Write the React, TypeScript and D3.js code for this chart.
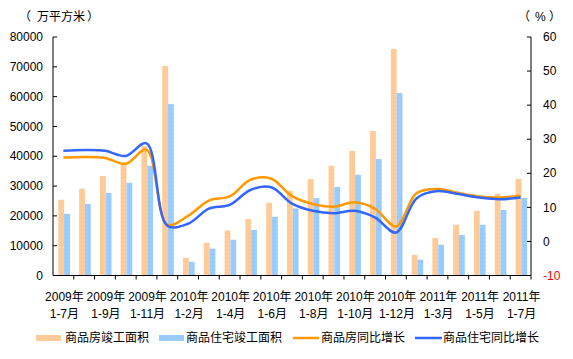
import * as React from "react";
import * as d3 from "d3";

const months = [
  "2009年|1-7月", "2009年|1-8月", "2009年|1-9月", "2009年|1-10月", "2009年|1-11月", "2009年|1-12月",
  "2010年|1-2月", "2010年|1-3月", "2010年|1-4月", "2010年|1-5月", "2010年|1-6月", "2010年|1-7月",
  "2010年|1-8月", "2010年|1-9月", "2010年|1-10月", "2010年|1-11月", "2010年|1-12月",
  "2011年|1-2月", "2011年|1-3月", "2011年|1-4月", "2011年|1-5月", "2011年|1-6月", "2011年|1-7月",
];

// 万平方米
const houseArea = [25400, 29100, 33400, 37100, 43500, 70300, 5900, 11000, 15100, 19000, 24400, 28400, 32400, 36800, 41800, 48500, 76000, 6900, 12600, 17000, 21700, 27400, 32400];
const resiArea = [20700, 24000, 27700, 31100, 36800, 57500, 4600, 9000, 12000, 15300, 19700, 22500, 26000, 29700, 33800, 39100, 61200, 5300, 10300, 13600, 17000, 22000, 26000];
// %
const houseGrowth = [24.6, 24.8, 24.5, 22.8, 26.9, 4.9, 7.5, 12.0, 13.2, 18.1, 18.4, 13.3, 11.0, 10.2, 11.5, 9.6, 4.4, 14.2, 15.4, 14.2, 13.2, 12.9, 13.4];
const resiGrowth = [26.6, 26.8, 26.6, 25.1, 28.8, 4.6, 5.2, 9.6, 10.7, 15.1, 15.9, 11.1, 9.0, 8.3, 9.0, 7.0, 2.6, 12.7, 14.8, 13.9, 12.9, 12.4, 12.9];

const leftTicks = [0, 10000, 20000, 30000, 40000, 50000, 60000, 70000, 80000];
const rightTicks = [-10, 0, 10, 20, 30, 40, 50, 60];

const ORANGE_BAR = "#FFCC99";
const BLUE_BAR = "#99CCFF";
const ORANGE_LINE = "#FF9900";
const BLUE_LINE = "#3366FF";

export default function App() {
  const width = 573;
  const height = 359;
  const left = 53, right = 531, top = 37, bottom = 275.5;
  const font = "'Liberation Sans', Arial, 'Noto Sans CJK SC', sans-serif";

  const x = d3.scaleBand<number>().domain(months.map((_, i) => i)).range([left, right]);
  const bw = x.bandwidth();
  const xs = d3.scaleBand<string>().domain(["h", "r"]).range([0, bw]).paddingOuter(0.79).align(0.58);
  const yL = d3.scaleLinear().domain([0, 80000]).range([bottom, top]);
  const yR = d3.scaleLinear().domain([-10, 60]).range([bottom, top]);

  const line = d3.line<number>()
    .x((_, i) => (x(i) as number) + bw / 2)
    .y((v) => yR(v))
    .curve(d3.curveCatmullRom.alpha(0.5));

  return (
    <div style={{ position: "absolute", left: 0, top: 0 }}>
      <svg width={width} height={height} style={{ display: "block", background: "#fff" }} fontFamily={font}>
        <defs>
          <pattern id="dotO" width="4" height="4" patternUnits="userSpaceOnUse">
            <rect width="4" height="4" fill={ORANGE_BAR} />
            <rect x="1" y="1" width="1" height="1" fill="#F5C08E" />
          </pattern>
          <pattern id="dotB" width="4" height="4" patternUnits="userSpaceOnUse">
            <rect width="4" height="4" fill={BLUE_BAR} />
            <rect x="1" y="1" width="1" height="1" fill="#8CC0F5" />
          </pattern>
        </defs>

        {/* bars */}
        {houseArea.map((v, i) => (
          <rect key={"h" + i} x={(x(i) as number) + (xs("h") as number)} y={yL(v)}
            width={xs.bandwidth()} height={bottom - yL(v)} fill="url(#dotO)" />
        ))}
        {resiArea.map((v, i) => (
          <rect key={"r" + i} x={(x(i) as number) + (xs("r") as number)} y={yL(v)}
            width={xs.bandwidth()} height={bottom - yL(v)} fill="url(#dotB)" />
        ))}

        {/* lines */}
        <path d={line(houseGrowth) || ""} fill="none" stroke={ORANGE_LINE} strokeWidth={2.5} />
        <path d={line(resiGrowth) || ""} fill="none" stroke={BLUE_LINE} strokeWidth={2.5} />

        {/* left axis */}
        <line x1={left} x2={left} y1={top} y2={bottom} stroke="#000" />
        {leftTicks.map((t) => (
          <g key={"lt" + t}>
            <line x1={left} x2={left + 4} y1={yL(t)} y2={yL(t)} stroke="#000" />
            <text x={43} y={yL(t)} dy="0.35em" textAnchor="end" fontSize={12}>{t}</text>
          </g>
        ))}

        {/* right axis */}
        <line x1={right} x2={right} y1={top} y2={bottom} stroke="#000" />
        {rightTicks.map((t) => (
          <g key={"rt" + t}>
            <line x1={right - 4} x2={right} y1={yR(t)} y2={yR(t)} stroke="#000" />
            <text x={543} y={yR(t)} dy="0.35em" textAnchor="start" fontSize={12}
              fill={t < 0 ? "#FF0000" : "#000"}>{t}</text>
          </g>
        ))}

        {/* x axis */}
        <line x1={left} x2={right} y1={bottom} y2={bottom} stroke="#000" />
        {months.map((_, i) => (
          <line key={"xt" + i} x1={(x(i) as number) + bw} x2={(x(i) as number) + bw} y1={bottom} y2={bottom + 4} stroke="#000" />
        ))}
        {months.map((m, i) => {
          if (i % 2 !== 0) return null;
          const [yr, mo] = m.split("|");
          const cx = (x(i) as number) + bw / 2 + 1;
          return (
            <text key={"xl" + i} x={cx} textAnchor="middle" fontSize={12}>
              <tspan x={cx} y={301}>{yr}</tspan>
              <tspan x={cx} y={318}>{mo}</tspan>
            </text>
          );
        })}

        {/* axis titles */}
        <text x={19} y={21} fontSize={12}>（</text>
        <text x={37} y={21} fontSize={12}>万平方米</text>
        <text x={87} y={21} fontSize={12}>）</text>
        <text x={518} y={21} fontSize={12}>（</text>
        <text x={535} y={21} fontSize={12}>%</text>
        <text x={549} y={21} fontSize={12}>）</text>

        {/* legend */}
        <rect x={36} y={335} width={25} height={6} fill="url(#dotO)" />
        <text x={65} y={342} fontSize={12}>商品房竣工面积</text>
        <rect x={159} y={335} width={25} height={6} fill="url(#dotB)" />
        <text x={186} y={342} fontSize={12}>商品住宅竣工面积</text>
        <line x1={293} x2={319} y1={338} y2={338} stroke={ORANGE_LINE} strokeWidth={2.5} />
        <text x={321} y={342} fontSize={12}>商品房同比增长</text>
        <line x1={415} x2={442} y1={338} y2={338} stroke={BLUE_LINE} strokeWidth={2.5} />
        <text x={443} y={342} fontSize={12}>商品住宅同比增长</text>
      </svg>
    </div>
  );
}
